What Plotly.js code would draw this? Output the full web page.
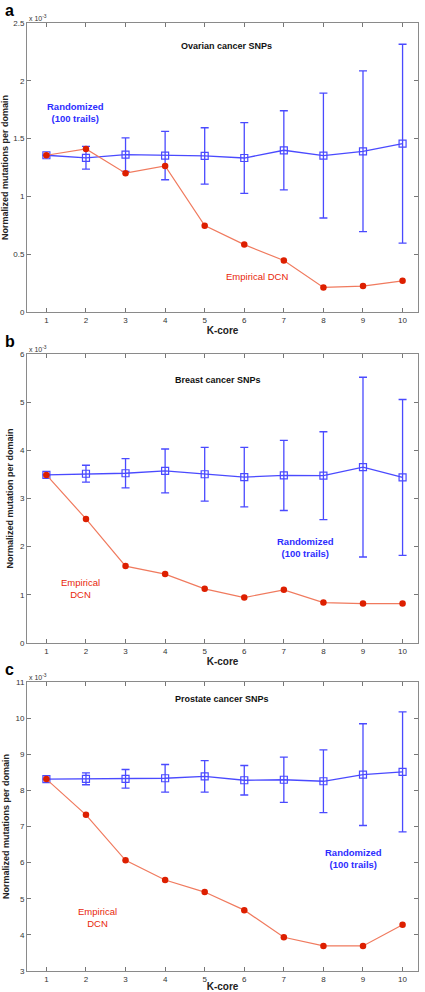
<!DOCTYPE html>
<html><head><meta charset="utf-8">
<script src="https://cdn.plot.ly/plotly-3.0.1.min.js"></script>
<style>html,body{margin:0;padding:0;background:#fff;}#chart{width:425px;height:992px;}</style>
</head><body><div id="chart"></div>
<script>
// K-core levels
const kcore = [1,2,3,4,5,6,7,8,9,10];

// Values in units of 1e-3
// Panel a: Ovarian cancer SNPs
const ovarianRandom   = [1.356,1.334,1.361,1.353,1.350,1.332,1.399,1.353,1.390,1.456];
const ovarianRandomSD = [0,0.098,0.145,0.209,0.244,0.306,0.342,0.540,0.695,0.860];
const ovarianEmpirical = [1.356,1.411,1.201,1.264,0.747,0.583,0.445,0.213,0.224,0.270];

// Panel b: Breast cancer SNPs
const breastRandom   = [3.49,3.514,3.524,3.573,3.503,3.444,3.479,3.474,3.651,3.437];
const breastRandomSD = [0,0.176,0.304,0.455,0.559,0.618,0.728,0.912,1.866,1.618];
const breastEmpirical = [3.49,2.576,1.597,1.431,1.125,0.944,1.104,0.840,0.819,0.819];

// Panel c: Prostate cancer SNPs
const prostateRandom   = [8.312,8.321,8.321,8.335,8.390,8.280,8.294,8.252,8.436,8.513];
const prostateRandomSD = [0,0.165,0.257,0.381,0.436,0.408,0.624,0.867,1.408,1.661];
const prostateEmpirical = [8.312,7.324,6.065,5.519,5.185,4.685,3.935,3.694,3.694,4.278];

const panelLetters = ['a','b','c'];
const panelTitles = ["Ovarian cancer SNPs","Breast cancer SNPs","Prostate cancer SNPs"];
const yTitles = ["Normalized mutations per domain","Normalized mutation per domain","Normalized mutations per domain"];
const yTicks = [[0,0.5,1,1.5,2,2.5],[0,1,2,3,4,5,6],[3,4,5,6,7,8,9,10,11]];
const yRanges = [[0,2.5],[0,6],[3,11]];

const BLUE = '#4a4aff', BLUE_TXT = '#2d2dff', RED = '#dd1f00', RED_LINE = '#f07a5e', RED_TXT = '#e8260a';
const FONT = 'Liberation Sans, Arial, sans-serif';

const empSeries = [ovarianEmpirical, breastEmpirical, prostateEmpirical];
const rndSeries = [ovarianRandom, breastRandom, prostateRandom];
const sdSeries = [ovarianRandomSD, breastRandomSD, prostateRandomSD];

const traces = [];
for (let i=0;i<3;i++){
  const ax = i===0 ? '' : String(i+1);
  traces.push({
    x: kcore, y: rndSeries[i], type:'scatter', mode:'lines+markers',
    xaxis:'x'+ax, yaxis:'y'+ax,
    line:{color:BLUE, width:1.3},
    marker:{symbol:'square-open', size:7, color:BLUE, line:{width:1.2, color:BLUE}},
    error_y:{type:'data', array:sdSeries[i], visible:true, color:BLUE, thickness:1.3, width:4},
    showlegend:false, hoverinfo:'skip'
  });
  traces.push({
    x: kcore, y: empSeries[i], type:'scatter', mode:'lines+markers',
    xaxis:'x'+ax, yaxis:'y'+ax,
    line:{color:RED_LINE, width:1.2},
    marker:{symbol:'circle', size:6.5, color:RED},
    showlegend:false, hoverinfo:'skip'
  });
}

// pixel geometry
const W=425, H=992, mL=27, mR=7, mT=23, mB=21;
const ph = H - mT - mB;
function frac(py){ return (H - mB - py)/ph; }
function fx(px){ return (px - mL)/(W - mL - mR); }
const panels = [[23,312],[354,643],[682,971]];

const layout = {
  width:W, height:H, margin:{l:mL, r:mR, t:mT, b:mB},
  paper_bgcolor:'#fff', plot_bgcolor:'#fff',
  font:{family:FONT, size:8, color:'#333'},
  annotations:[], showlegend:false
};

for (let i=0;i<3;i++){
  const ax = i===0 ? '' : String(i+1);
  const top = frac(panels[i][0]), bot = frac(panels[i][1]);
  layout['xaxis'+ax] = {
    domain:[0,1], anchor:'y'+ax, range:[0.51,10.39],
    tickvals:kcore, ticks:'inside', ticklen:4, tickcolor:'#777', tickwidth:1,
    showline:true, linecolor:'#8a8a8a', linewidth:1, mirror:'ticks',
    showgrid:false, zeroline:false,
    tickfont:{family:FONT, size:8, color:'#333'},
    title:{text:'<b>K-core</b>', font:{family:FONT, size:10, color:'#222'}, standoff:2}
  };
  layout['yaxis'+ax] = {
    domain:[Math.max(0,bot), Math.min(1,top)], anchor:'x'+ax, range:yRanges[i],
    tickvals:yTicks[i], ticks:'inside', ticklen:4, tickcolor:'#777', tickwidth:1,
    showline:true, linecolor:'#8a8a8a', linewidth:1, mirror:'ticks',
    showgrid:false, zeroline:false,
    tickfont:{family:FONT, size:8, color:'#333'},
    title:{text:'<b>'+yTitles[i]+'</b>', font:{family:FONT, size:9, color:'#222'}, standoff:4}
  };
  // panel letter
  layout.annotations.push({text:'<b>'+panelLetters[i]+'</b>', xref:'paper', yref:'paper',
    x:fx(3), y:frac(panels[i][0]-23), xanchor:'left', yanchor:'top', showarrow:false,
    font:{family:FONT, size:16, color:'#000'}});
  // exponent
  layout.annotations.push({text:'x 10<sup>-3</sup>', xref:'paper', yref:'paper',
    x:0, y:frac(panels[i][0]-5), xanchor:'left', yanchor:'middle', showarrow:false,
    font:{family:FONT, size:7, color:'#333'}});
  // panel title
  const tpos = [[226,46],[218,380],[222,699]][i];
  layout.annotations.push({text:'<b>'+panelTitles[i]+'</b>', xref:'paper', yref:'paper',
    x:fx(tpos[0]), y:frac(tpos[1]), xanchor:'center', yanchor:'middle', showarrow:false,
    font:{family:FONT, size:9, color:'#111'}});
  const rpos = [[75,112],[305,547],[353,858]][i];
  layout.annotations.push({text:'<b>Randomized<br>(100 trails)</b>', xref:'paper', yref:'paper',
    x:fx(rpos[0]), y:frac(rpos[1]), xanchor:'center', yanchor:'middle', showarrow:false,
    font:{family:FONT, size:9.5, color:BLUE_TXT}});
  const epos = [[257,277],[80,589],[97,917]][i];
  layout.annotations.push({text: i===0 ? 'Empirical DCN' : 'Empirical<br>DCN', xref:'paper', yref:'paper',
    x:fx(epos[0]), y:frac(epos[1]), xanchor:'center', yanchor:'middle', showarrow:false,
    font:{family:FONT, size:9.5, color:RED_TXT}});
}

Plotly.newPlot('chart', traces, layout, {displayModeBar:false, staticPlot:true});
</script></body></html>
